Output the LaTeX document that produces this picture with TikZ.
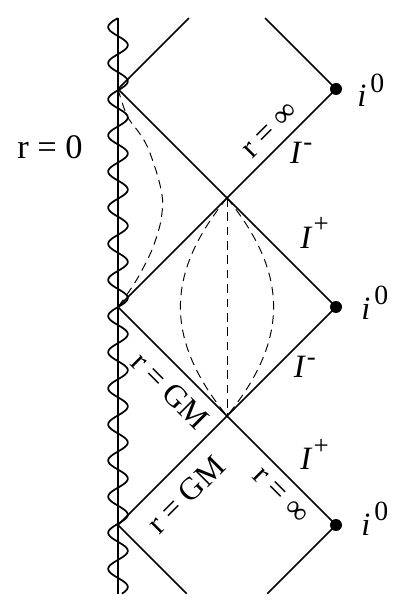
\documentclass[tikz,border=0pt]{standalone}
\usepackage{fontspec}
\setmainfont{Liberation Serif}
\usepackage{tikz}

\tikzset{
  edge/.style={line width=0.9pt},
  guide/.style={line width=0.5pt, dash pattern=on 4.5pt off 3pt},
  dot/.style={circle, fill, inner sep=0pt, minimum size=0.22cm},
  lab/.style={font=\fontsize{17}{20}\selectfont, inner sep=0pt},
  rlab/.style={font=\fontsize{16.5}{20}\selectfont, inner sep=0pt},
}
\newcommand{\scri}[2]{\textit{I}\kern0.03em\raisebox{#2}{\fontsize{14}{14}\selectfont #1}}
\newcommand{\spat}{\textit{i}\kern0.12em\raisebox{0.46em}{\fontsize{14.5}{14}\selectfont 0}}

\begin{document}
\begin{tikzpicture}[x=2cm,y=2cm]
\useasboundingbox (-1.0826,-2.8165) rectangle (2.6697,2.8165);
% corners
\coordinate (A) at (0,2);
\coordinate (B) at (1,1);
\coordinate (C) at (0,0);
\coordinate (D) at (1,-1);
\coordinate (E) at (0,-2);
\coordinate (sTop) at (0,2.651);
\coordinate (sBot) at (0,-2.63);
\coordinate (top1) at (0.651,2.651);
\coordinate (top2) at (1.349,2.651);
\coordinate (bot1) at (0.63,-2.63);
\coordinate (bot2) at (1.37,-2.63);
\node[dot] (i1) at (2,2) {};
\node[dot] (i2) at (2,0) {};
\node[dot] (i3) at (2,-2) {};

% singularity r = 0
\draw[edge] (sTop) -- (sBot);
\draw[edge] plot[domain=-2.63:2.651, samples=401, smooth] ({-0.09*sin(1086.3*(2.651-\x))},\x);

% null boundaries
\draw[edge] (top1) -- (A) -- (B) -- (C) -- (D) -- (E) -- (bot1);
\draw[edge] (top2) -- (i1.center) -- (B) -- (i2.center) -- (D) -- (i3.center) -- (bot2);

% constant r curves
\draw[guide] plot[smooth] coordinates {(0,2) (0.03,1.9) (0.09,1.74) (0.2,1.59) (0.27,1.47) (0.34,1.28) (0.39,1.1) (0.41,0.95) (0.385,0.75) (0.31,0.52) (0.2,0.3) (0.11,0.155) (0,0)};
\draw[guide] (B) -- (D);
\draw[guide] (B) .. controls (0.43,0.3) and (0.43,-0.3) .. (D);
\draw[guide] (B) .. controls (1.57,0.3) and (1.57,-0.3) .. (D);

% labels
\node[lab, font=\fontsize{18}{20}\selectfont, anchor=base] (rzero) at (-0.624,1.358) {r = 0};
\node[lab, anchor=base west] (sp1) at (2.193,1.835) {\spat};
\node[lab, anchor=base west] (sp2) at (2.229,-0.119) {\spat};
\node[lab, anchor=base west] (sp3) at (2.229,-2.092) {\spat};
\node[lab, anchor=base west] (scm1) at (1.576,1.321) {\scri{-}{0.38em}};
\node[lab, anchor=base west] (scp1) at (1.67,0.541) {\scri{+}{0.47em}};
\node[lab, anchor=base west] (scm2) at (1.61,-0.651) {\scri{-}{0.38em}};
\node[lab, anchor=base west] (scp2) at (1.67,-1.495) {\scri{+}{0.47em}};
\node[rlab, rotate=45] (rinf1) at (1.40,1.615) {r = ∞};
\node[rlab, rotate=-45] (rgm1) at (0.477,-0.77) {r = GM};
\node[rlab, rotate=45] (rgm2) at (0.624,-1.725) {r = GM};
\node[rlab, rotate=-45] (rinf2) at (1.486,-1.734) {r = ∞};
\end{tikzpicture}
\end{document}
